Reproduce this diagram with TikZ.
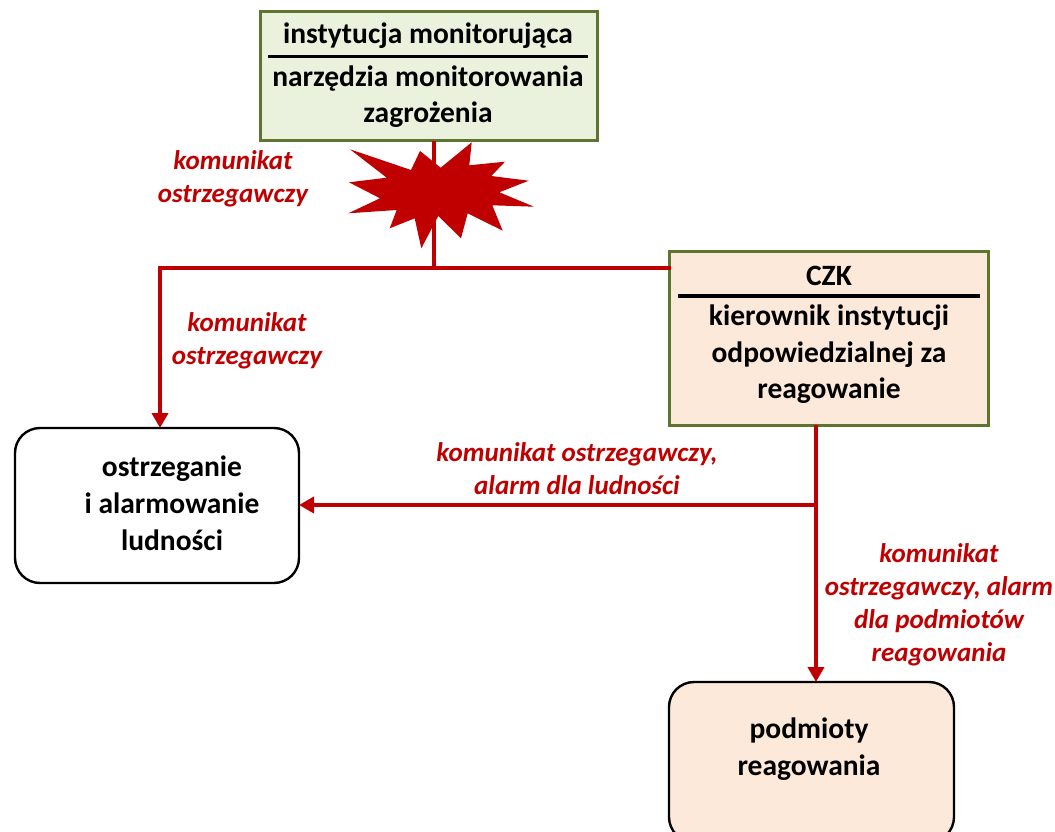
\documentclass[tikz,border=0pt]{standalone}
\usepackage{fontspec}
\setmainfont{Carlito}
\usetikzlibrary{arrows.meta}
\definecolor{cred}{HTML}{C00000}
\definecolor{cgreen}{HTML}{EAF1DD}
\definecolor{cpeach}{HTML}{FDE9D9}
\definecolor{cborder}{HTML}{5E7530}
\tikzset{
  sqbox/.style={draw=cborder,line width=3pt,anchor=north west,inner sep=0pt,outer sep=0pt},
  rbox/.style={draw=black,line width=2.4pt,rounded corners=25pt,anchor=north west,inner sep=0pt,outer sep=0pt},
  boxtext/.style={font=\fontsize{29.5}{29.5}\selectfont\bfseries,text=black,align=center,anchor=center,inner sep=0pt},
  redtext/.style={font=\fontsize{27}{33}\selectfont\bfseries\itshape,text=cred,align=center,anchor=center,inner sep=0pt},
  conn/.style={draw=cred,line width=4pt},
  arr/.style={conn,-{Triangle[length=15pt,width=16pt]}},
  rulex/.style={draw=black,line width=3.6pt}
}
\begin{document}
\begin{tikzpicture}[x=1pt,y=-1pt]
\useasboundingbox (0,0) rectangle (1055,832);
\clip (0,0) rectangle (1055,832);
% boxes
\node[sqbox,fill=cgreen,minimum width=337pt,minimum height=129pt] (mon) at (260,12) {};
\node[sqbox,fill=cpeach,minimum width=319pt,minimum height=174pt] (czk) at (669,251) {};
\node[rbox,fill=white,minimum width=284pt,minimum height=155pt] (ost) at (15,428) {};
\node[rbox,fill=cpeach,minimum width=285pt,minimum height=160pt] (pod) at (669,682) {};
% connector junctions
\coordinate (j1) at (434,268.3);
\coordinate (j2) at (160,268.3);
\coordinate (j3) at (816,505);
\draw[conn] (mon.south -| j1) -- (j1);
\draw[conn,line cap=rect] (czk.west |- j1) -- (j2);
\draw[arr] (j2) -- (j2 |- ost.north);
\draw[conn] (czk.south -| j3) -- (j3);
\draw[arr] (j3) -- (j3 -| ost.east);
\draw[arr] (j3) -- (j3 |- pod.north);
% star
\fill[cred] (350,149.3) -- (411,170) -- (420,151) -- (440.7,167.7) -- (471.7,142.3) -- (469.3,165.3) -- (505,161.7) -- (491.3,176) -- (528.7,180.7) -- (499.3,192.3) -- (534,206.7) -- (492.3,205.3) -- (502.7,230.7) -- (467.7,213.3) -- (461,238.3) -- (438.3,216) -- (421.3,248.3) -- (414.7,218.3) -- (389.7,228.3) -- (396.7,210) -- (348.3,213.3) -- (380,198.3) -- (349,182.3) -- (386.7,177.7) -- cycle;
% rules
\coordinate (r1a) at (268,56.5); \coordinate (r1b) at (588,56.5);
\coordinate (r2a) at (678,296); \coordinate (r2b) at (980,296);
\draw[rulex] (r1a) -- (r1b);
\draw[rulex] (r2a) -- (r2b);
% box text
\node[boxtext] (t1) at (428,35.5) {instytucja monitorująca};
\node[boxtext] (t2) at (428,79) {narzędzia monitorowania};
\node[boxtext] (t3) at (428,115) {zagrożenia};
\node[boxtext] (t4) at (829,276) {CZK};
\node[boxtext] (t5) at (829,318) {kierownik instytucji};
\node[boxtext] (t6) at (829,355) {odpowiedzialnej za};
\node[boxtext] (t7) at (829,391) {reagowanie};
\node[boxtext] (t8) at (172,469) {ostrzeganie};
\node[boxtext] (t9) at (172,503) {i alarmowanie};
\node[boxtext] (t10) at (172,540) {ludności};
\node[boxtext] (t11) at (809,730) {podmioty};
\node[boxtext] (t12) at (809,768) {reagowania};
% red labels
\node[redtext] (l1) at (233,179) {komunikat\\ostrzegawczy};
\node[redtext] (l2) at (247,341) {komunikat\\ostrzegawczy};
\node[redtext] (l3) at (577,469) {komunikat ostrzegawczy,\\alarm dla ludności};
\node[redtext] (l4) at (939,605) {komunikat\\ostrzegawczy, alarm\\dla podmiotów\\reagowania};
\end{tikzpicture}
\end{document}
